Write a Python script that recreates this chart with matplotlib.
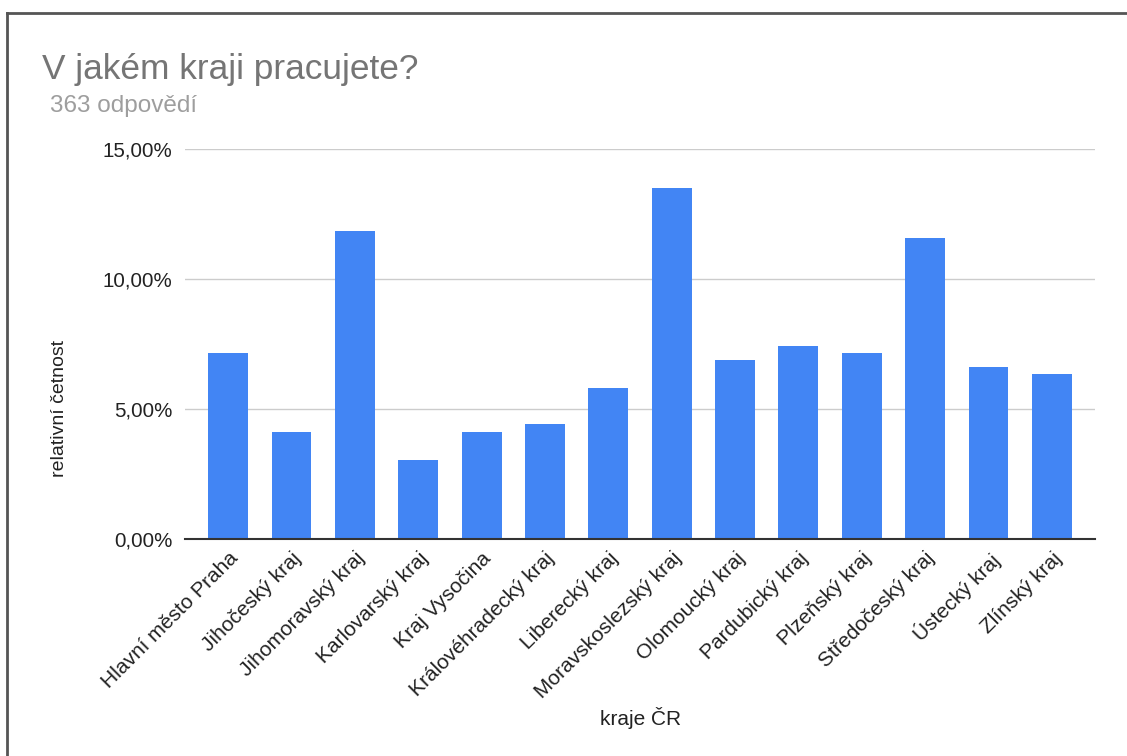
import matplotlib
matplotlib.use("Agg")
import matplotlib.pyplot as plt
from matplotlib.ticker import FuncFormatter
from matplotlib.lines import Line2D

categories = ["Hlavní město Praha", "Jihočeský kraj", "Jihomoravský kraj",
              "Karlovarský kraj", "Kraj Vysočina", "Královéhradecký kraj",
              "Liberecký kraj", "Moravskoslezský kraj", "Olomoucký kraj",
              "Pardubický kraj", "Plzeňský kraj", "Středočeský kraj",
              "Ústecký kraj", "Zlínský kraj"]
values = [7.16, 4.13, 11.85, 3.03, 4.13, 4.41, 5.79, 13.50, 6.89, 7.44,
          7.16, 11.57, 6.61, 6.34]
y_ticks = [0, 5, 10, 15]
title = "V jakém kraji pracujete?"
subtitle = "363 odpovědí"
x_label = "kraje ČR"
y_label = "relativní četnost"

plt.rcParams['font.family'] = ['Liberation Sans', 'DejaVu Sans']

W, H = 1127, 756
fig = plt.figure(figsize=(W / 100, H / 100), dpi=100)
ax = fig.add_axes([185 / W, (H - 539) / H, (1095 - 185) / W, (539 - 149) / H])

x = list(range(len(categories)))
ax.bar(x, values, width=0.63, color="#4285f4", zorder=3)

ax.set_xlim(-0.68, len(categories) - 1 + 0.68)
ax.set_ylim(0, 15)
ax.set_yticks(y_ticks)
ax.yaxis.set_major_formatter(FuncFormatter(lambda v, p: f"{v:.2f}".replace(".", ",") + "%"))
ax.grid(axis="y", color="#cccccc", linewidth=1, zorder=0)
for s in ["top", "right", "left"]:
    ax.spines[s].set_visible(False)
ax.spines["bottom"].set_color("#333333")
ax.spines["bottom"].set_linewidth(1.5)
ax.spines["bottom"].set_zorder(4)
ax.tick_params(axis="y", length=0, pad=9, labelsize=14.8, labelcolor="#222222")
ax.tick_params(axis="x", length=0, pad=7, labelsize=15, labelcolor="#222222")
ax.set_xticks(x)
ax.set_xticklabels(categories, rotation=45, ha="right", va="top", rotation_mode="anchor")

fig.text(641 / W, 1 - 718 / H, x_label, ha="center", va="center", fontsize=15, color="#222222")
fig.text(60 / W, 1 - 408 / H, y_label, ha="center", va="center", rotation=90, fontsize=14, color="#222222")

fig.text(42 / W, 1 - 79 / H, title, ha="left", va="baseline", fontsize=25.4, color="#757575")
fig.text(50 / W, 1 - 112 / H, subtitle, ha="left", va="baseline", fontsize=17.5, color="#9e9e9e")

# page border (left and top)
fig.add_artist(Line2D([7 / W, 7 / W], [0, 1 - 13 / H], transform=fig.transFigure, color="#555555", linewidth=2))
fig.add_artist(Line2D([7 / W, 1], [1 - 13 / H, 1 - 13 / H], transform=fig.transFigure, color="#555555", linewidth=2))

fig.savefig("out.png", dpi=100, facecolor="white")
